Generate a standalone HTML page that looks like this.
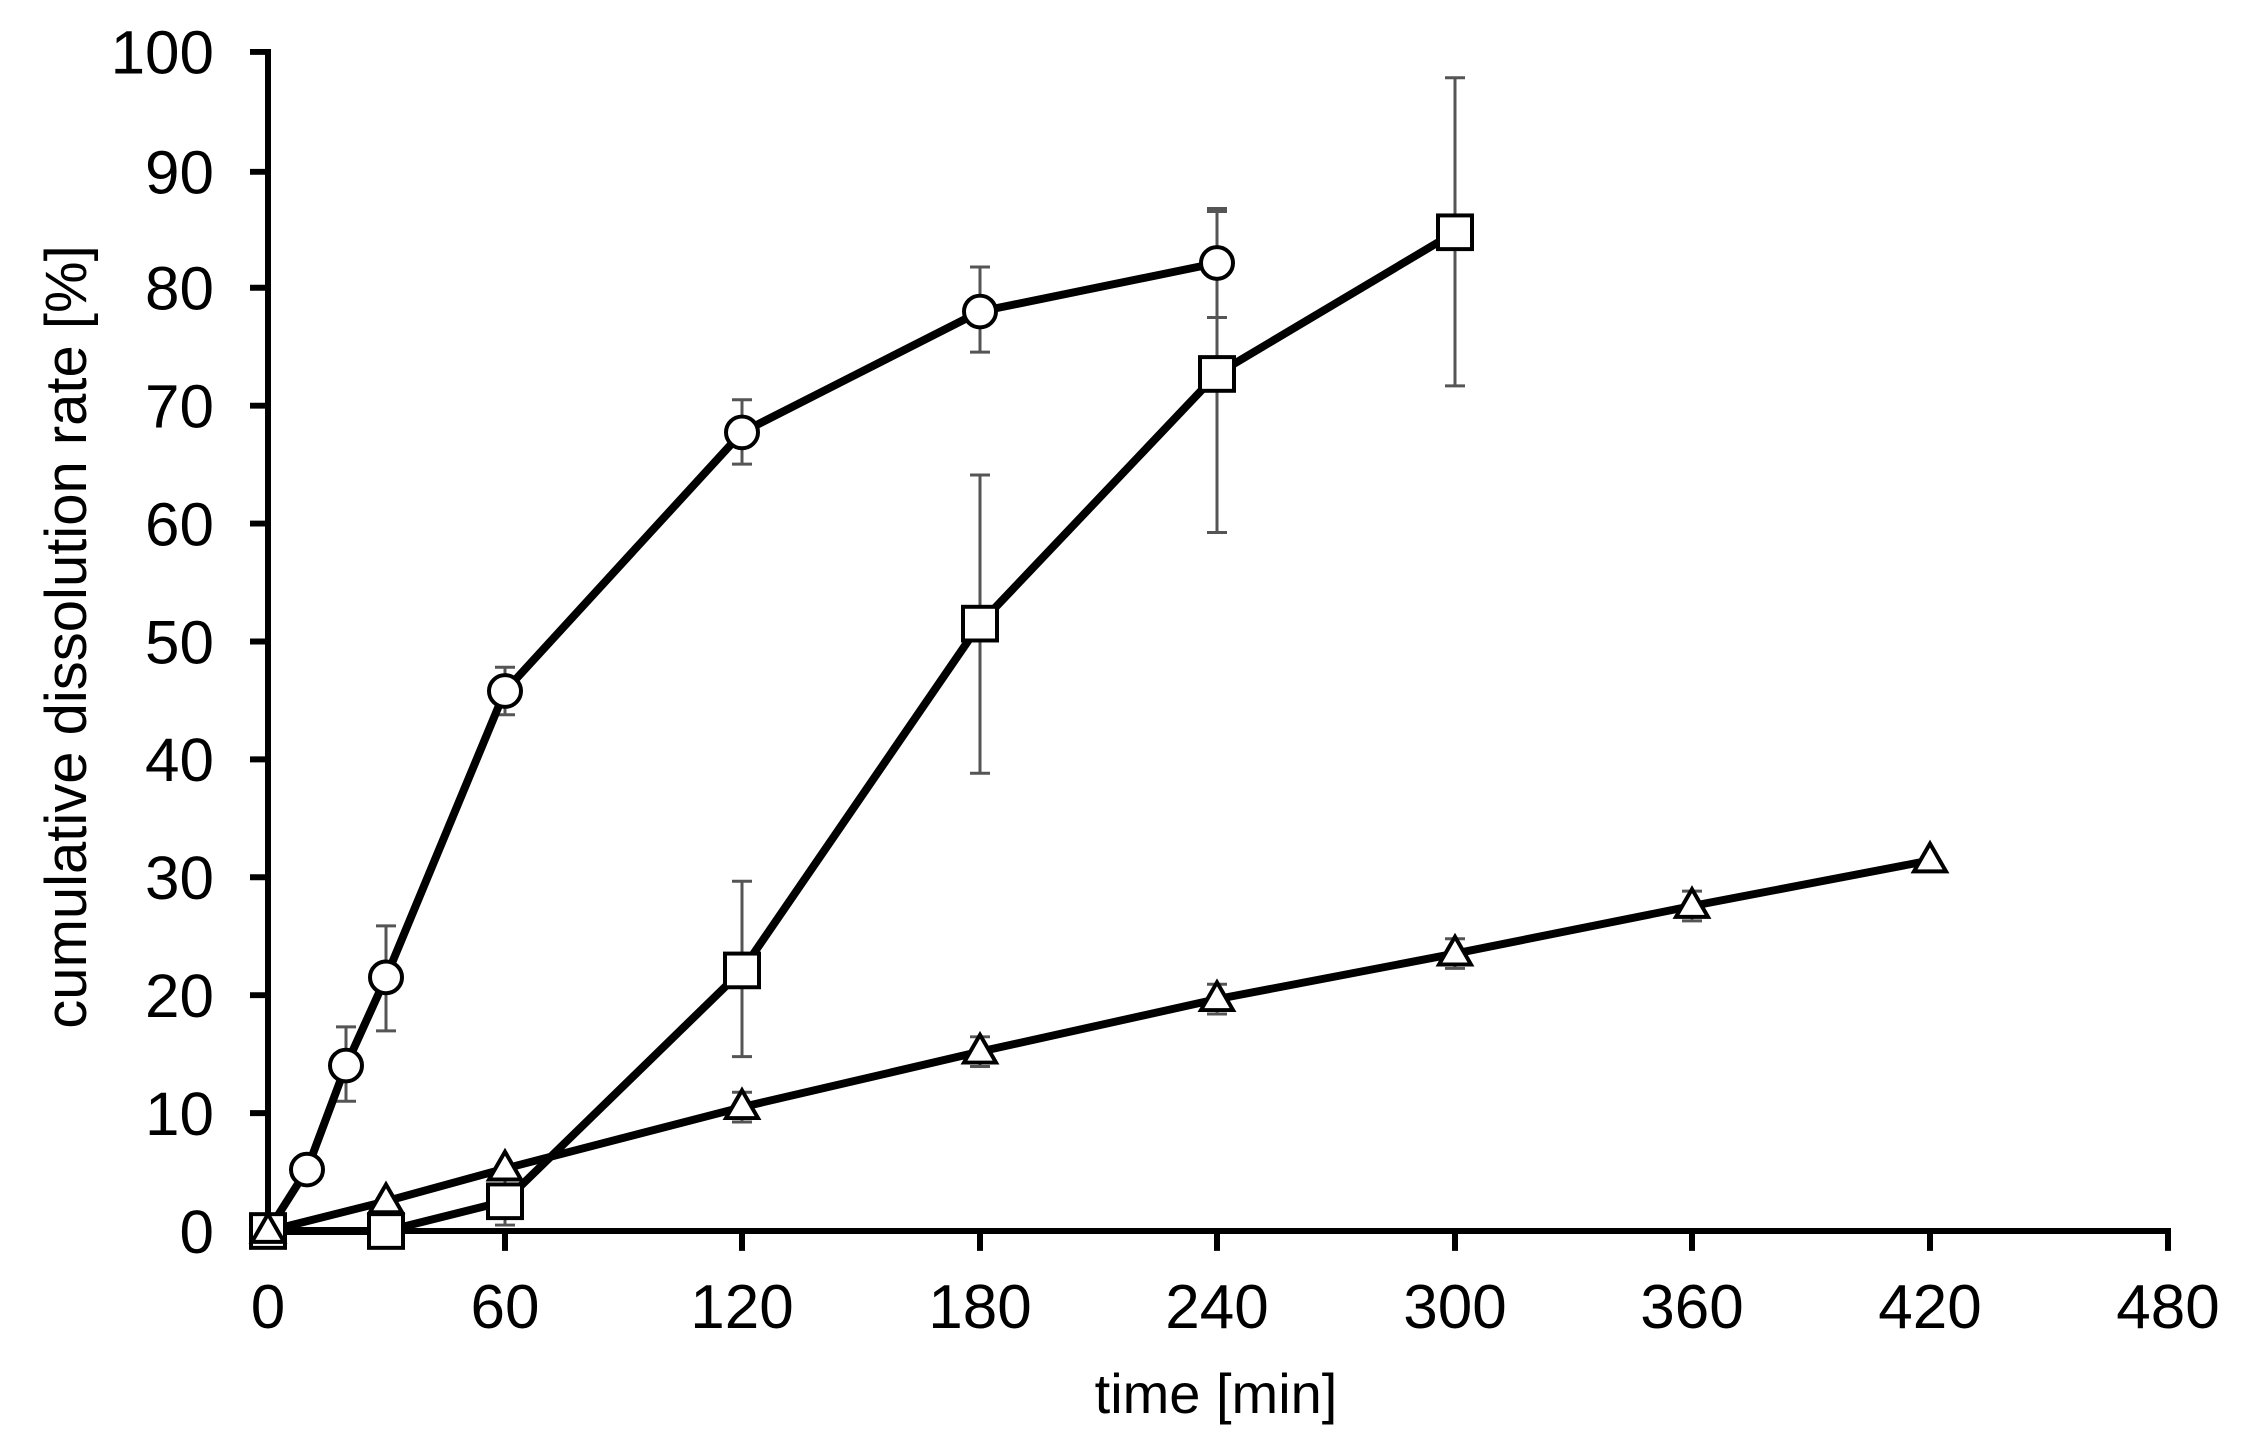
<!DOCTYPE html>
<html><head><meta charset="utf-8"><style>html,body{margin:0;padding:0;background:#fff}svg{display:block}</style></head><body>
<svg width="2243" height="1453" viewBox="0 0 2243 1453" xmlns="http://www.w3.org/2000/svg" font-family="Liberation Sans, Arial, sans-serif">
<rect width="2243" height="1453" fill="#fff"/>
<g transform="translate(0,1231) scale(1,0.9908) translate(0,-1242)">
<!-- axes -->
<g stroke="#000" stroke-width="6" fill="none">
<path d="M250 52 H268 V1242 H2168 V1262"/>
<path d="M250 173H268M250 290H268M250 409H268M250 528H268M250 647H268M250 766H268M250 885H268M250 1004H268M250 1123H268M250 1242H268"/>
<path d="M505 1242V1262M742 1242V1262M980 1242V1262M1217 1242V1262M1455 1242V1262M1692 1242V1262M1930 1242V1262"/>
</g>
<g font-size="62" text-anchor="end" fill="#000">
<text x="214" y="74">100</text><text x="214" y="195">90</text><text x="214" y="312">80</text><text x="214" y="431">70</text><text x="214" y="550">60</text><text x="214" y="669">50</text><text x="214" y="788">40</text><text x="214" y="907">30</text><text x="214" y="1026">20</text><text x="214" y="1145">10</text><text x="214" y="1264">0</text>
</g>
<!-- error bars -->
<g stroke="#555" stroke-width="3" fill="none">
<path d="M346 1111V1036M336 1111H356M336 1036H356"/>
<path d="M386 1040V934M376 1040H396M376 934H396"/>
<path d="M505 721V673M495 721H515M495 673H515"/>
<path d="M742 468V403M732 468H752M732 403H752"/>
<path d="M980 355V269M970 355H990M970 269H990"/>
<path d="M1217 320V210M1207 320H1227M1207 210H1227"/>
<path d="M505 1236V1188M495 1236H515"/>
<path d="M742 1066V889M732 1066H752M732 889H752"/>
<path d="M980 780V479M970 780H990M970 479H990"/>
<path d="M1217 537V213M1207 537H1227M1207 213H1227"/>
<path d="M1455 389V78M1445 389H1465M1445 78H1465"/>
<path d="M742 1132V1102M732 1132H752M732 1102H752"/>
<path d="M980 1076V1046M970 1076H990M970 1046H990"/>
<path d="M1217 1023V993M1207 1023H1227M1207 993H1227"/>
<path d="M1455 977V947M1445 977H1465M1445 947H1465"/>
<path d="M1692 929V899M1682 929H1702M1682 899H1702"/>
</g>
<!-- lines -->
<g stroke="#000" stroke-width="8" fill="none" stroke-linejoin="round">
<polyline points="268,1242 307,1180 346,1075 386,986 505,697 742,436 980,314 1217,265"/>
<polyline points="268,1242 386,1242 505,1212 742,979 980,629 1217,377 1455,234"/>
<polyline points="268,1242 386,1212 505,1179 742,1117 980,1061 1217,1008 1455,962 1692,914 1930,868"/>
</g>
<!-- markers -->
<g stroke="#000" stroke-width="4" fill="#fff">
<circle cx="268" cy="1242" r="16"/><circle cx="307" cy="1180" r="16"/><circle cx="346" cy="1075" r="16"/><circle cx="386" cy="986" r="16"/><circle cx="505" cy="697" r="16"/><circle cx="742" cy="436" r="16"/><circle cx="980" cy="314" r="16"/><circle cx="1217" cy="265" r="16"/>
<rect x="251" y="1225" width="34" height="34"/><rect x="369" y="1225" width="34" height="34"/><rect x="488" y="1195" width="34" height="34"/><rect x="725" y="962" width="34" height="34"/><rect x="963" y="612" width="34" height="34"/><rect x="1200" y="360" width="34" height="34"/><rect x="1438" y="217" width="34" height="34"/>
<polygon points="268,1225 284,1253 252,1253"/>
<polygon points="386,1195 402,1223 370,1223"/>
<polygon points="505,1162 521,1190 489,1190"/>
<polygon points="742,1100 758,1128 726,1128"/>
<polygon points="980,1044 996,1072 964,1072"/>
<polygon points="1217,991 1233,1019 1201,1019"/>
<polygon points="1455,945 1471,973 1439,973"/>
<polygon points="1692,897 1708,925 1676,925"/>
<polygon points="1930,851 1946,879 1914,879"/>
</g>
</g>
<g font-size="62" text-anchor="middle" fill="#000">
<text x="268" y="1328">0</text><text x="505" y="1328">60</text><text x="742" y="1328">120</text><text x="980" y="1328">180</text><text x="1217" y="1328">240</text><text x="1455" y="1328">300</text><text x="1692" y="1328">360</text><text x="1930" y="1328">420</text><text x="2168" y="1328">480</text>
</g>
<text x="1216" y="1413" font-size="56" text-anchor="middle">time [min]</text>
<text transform="translate(86,637) rotate(-90)" font-size="58" text-anchor="middle">cumulative dissolution rate [%]</text>
</svg>
</body></html>
